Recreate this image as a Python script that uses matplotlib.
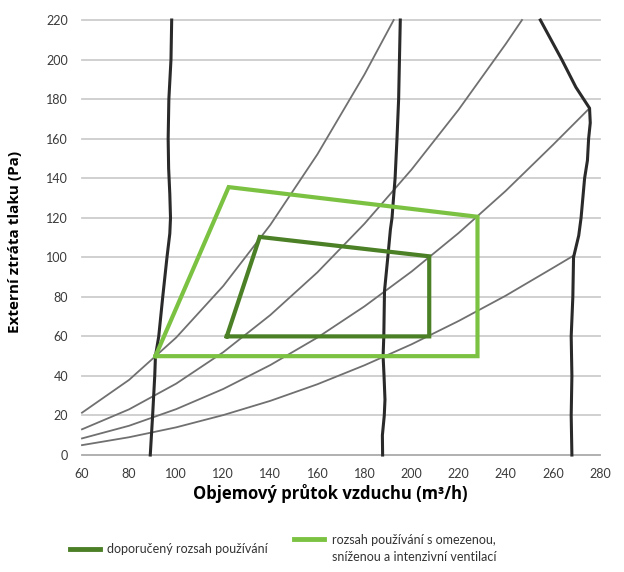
import matplotlib.pyplot as plt
from matplotlib.lines import Line2D

# system curves (grey)
sys_a_x = [60, 80, 100, 120, 140, 160, 180, 192.4]
sys_a_y = [21.4, 38.0, 59.4, 85.5, 116.4, 152.1, 192.5, 220]
sys_b_x = [60, 80, 100, 120, 140, 160, 180, 200, 220, 240, 246.9]
sys_b_y = [13.0, 23.1, 36.1, 52.0, 70.8, 92.4, 117.0, 144.4, 174.7, 207.9, 220]
sys_c_x = [60, 80, 100, 120, 140, 160, 180, 200, 220, 240, 260, 275.6]
sys_c_y = [8.4, 14.8, 23.2, 33.4, 45.5, 59.4, 75.2, 92.8, 112.3, 133.6, 156.8, 175.4]
sys_d_x = [60, 80, 100, 120, 140, 160, 180, 200, 220, 240, 260, 268.6]
sys_d_y = [5.0, 9.0, 14.0, 20.2, 27.4, 35.8, 45.4, 56.0, 67.8, 80.6, 94.6, 100.7]

# fan curves (black)
fan1_x = [89.0, 90.0, 90.9, 91.2, 92.6, 94.3, 96.1, 97.3, 97.6, 97.3, 96.8, 96.6, 96.9, 97.8, 98.1]
fan1_y = [0, 20, 40, 50, 60, 80, 100, 112, 120, 132, 145, 160, 180, 200, 220]
fan2_x = [187.7, 187.6, 188.4, 188.7, 188.3, 187.9, 188.2, 188.5, 189.9, 191.0, 191.7, 192.2, 193.0, 193.8, 194.5, 195.2]
fan2_y = [0, 10, 20, 28, 40, 50, 60, 83, 100, 114, 120, 128, 140, 160, 180, 220]
fan3_x = [268.1, 267.8, 268.1, 267.8, 268.5, 268.8, 271.0, 272.0, 273.5, 274.7, 275.2, 275.9, 275.6, 269.8, 263.8, 254.7]
fan3_y = [0, 20, 40, 60, 80, 100, 111, 120, 140, 149, 160, 168, 175.4, 186, 200, 220]

# operating ranges
wide_x = [91.2, 122.3, 228.0, 228.0, 91.2]
wide_y = [50, 135.5, 120.5, 50, 50]
rec_x = [121.5, 135.5, 207.5, 207.5, 121.5]
rec_y = [60, 110.3, 100.5, 60, 60]

xticks = list(range(60, 281, 20))
yticks = list(range(0, 221, 20))

dark_green = '#4c8026'
light_green = '#7cc242'
narrow = ['Lato', 'DejaVu Sans']

fig = plt.figure(figsize=(6.24, 5.72), dpi=100)
ax = fig.add_axes([0.1314, 0.2045, 0.830, 0.7605])

for y in yticks:
    ax.axhline(y, color='#aaaaaa' if y == 0 else '#cdcdcd', linewidth=1.3, zorder=0, clip_on=False)

for xs, ys in [(sys_a_x, sys_a_y), (sys_b_x, sys_b_y), (sys_c_x, sys_c_y), (sys_d_x, sys_d_y)]:
    ax.plot(xs, ys, color='#707070', linewidth=1.3, zorder=2, clip_on=False)

for xs, ys in [(fan1_x, fan1_y), (fan2_x, fan2_y), (fan3_x, fan3_y)]:
    ax.plot(xs, ys, color='#2a2a2a', linewidth=2.2, zorder=3, clip_on=False, solid_joinstyle='round')

ax.plot(wide_x, wide_y, color=light_green, linewidth=3.0, zorder=4, solid_joinstyle='miter', clip_on=False)
ax.plot(rec_x, rec_y, color=dark_green, linewidth=3.0, zorder=5, solid_joinstyle='miter', clip_on=False)

ax.set_xlim(60, 280)
ax.set_ylim(0, 220)
ax.set_xticks(xticks)
ax.set_yticks(yticks)
for s in ax.spines.values():
    s.set_visible(False)
ax.tick_params(length=0, labelsize=9, labelcolor='#3a3a3a')
ax.tick_params(axis='y', pad=10)
ax.tick_params(axis='x', pad=9)
for lab in ax.get_xticklabels() + ax.get_yticklabels():
    lab.set_family(narrow)

ax.set_ylabel('Externí ztráta tlaku (Pa)', fontsize=11, fontweight='bold', family='Open Sans')
ax.yaxis.set_label_coords(-0.115, 0.49)
ax.set_xlabel('Objemový průtok vzduchu (m³/h)', fontsize=12, fontweight='bold', family='Open Sans')
ax.xaxis.set_label_coords(0.48, -0.067)

handles = [Line2D([], [], color=dark_green, linewidth=3.5),
           Line2D([], [], color=light_green, linewidth=3.5)]
labels = ['doporučený rozsah používání',
          'rozsah používání s omezenou,\nsníženou a intenzivní ventilací']
leg = fig.legend(handles, labels, loc='upper left', bbox_to_anchor=(0.112, 0.067), ncol=2,
                 frameon=False, prop={'family': narrow, 'size': 9}, handlelength=2.4,
                 handletextpad=0.6, columnspacing=2.1, borderaxespad=0, borderpad=0)
for t in leg.get_texts():
    t.set_color('#333333')
    t.set_linespacing(1.5)
# keep the second handle level with the first line of its label
h2 = leg.legend_handles[1]
h2.set_ydata([v + 6.8 for v in h2.get_ydata()])

fig.savefig('out.png', dpi=100)
